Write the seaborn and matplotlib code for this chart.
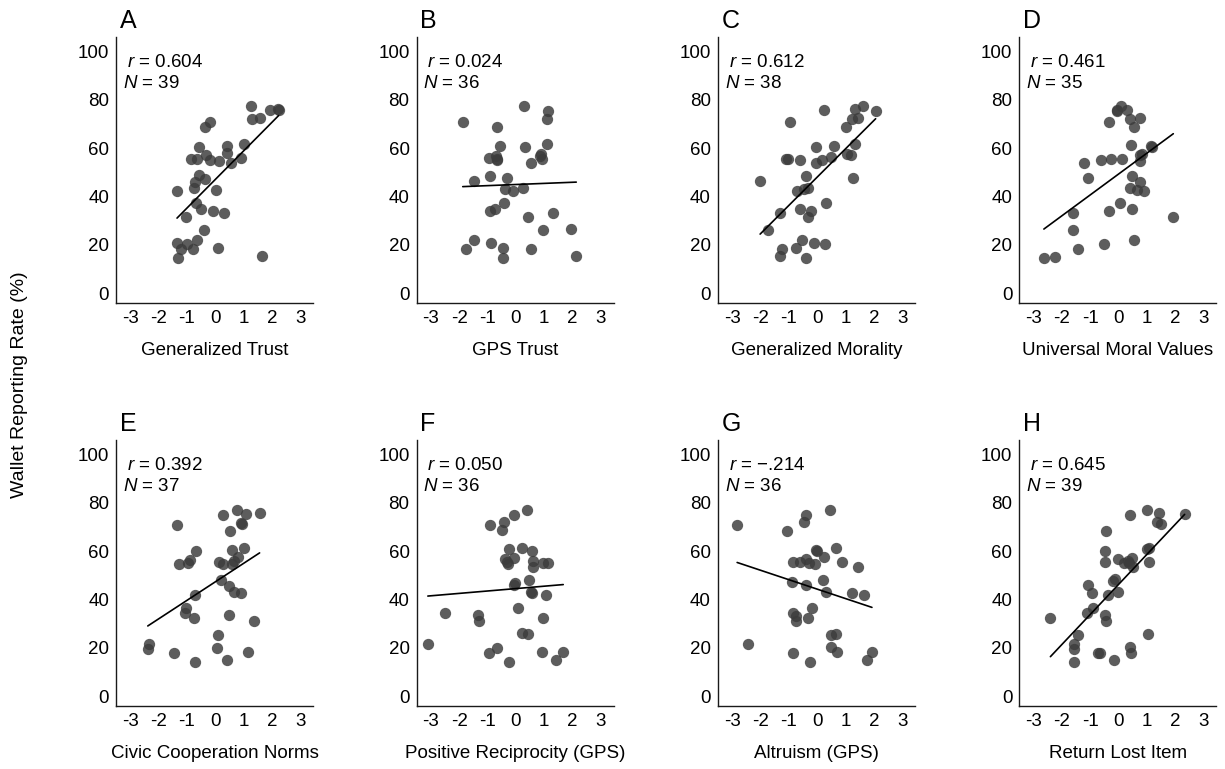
import numpy as np
import seaborn as sns
import matplotlib
matplotlib.use('Agg')
import matplotlib.pyplot as plt

# values (x = country score, y = reporting rate %)
trust_x = [1.24, 1.94, 2.2, 2.23, 1.3, 1.57, -0.19, -0.35, -0.57, 0.42, 1.01, -0.87, -0.66,
           -0.34, -0.2, 0.13, 0.42, 0.56, 0.91, -0.57, -0.7, -0.36, -0.76, 0.02, -1.35, -0.67,
           -0.51, -0.09, 0.29, -1.02, -0.4, -1.35, -1.0, -0.64, -1.2, -0.8, 0.1, -1.3, 1.65]
trust_y = [77.5, 75.9, 76.1, 75.9, 72, 72.3, 71, 68.8, 60.6, 61.1, 61.7, 55.7, 55.7,
           57.1, 55.2, 54.9, 58.1, 53.9, 56, 48.8, 46.2, 47.4, 43.6, 42.8, 42.3, 37.5,
           34.9, 34.2, 33.1, 31.7, 26.2, 21, 20.3, 22.2, 18.2, 18.5, 18.6, 14.8, 15.3]

gps_trust_x = [-1.87, 0.29, 1.15, 1.1, -0.65, -0.55, 0.33, 1.11, -0.93, -0.71, -0.67, -0.65,
               0.87, 0.92, 0.52, -1.49, -0.9, -0.3, -0.38, -0.09, 0.26, -0.4, -0.9, -0.73,
               0.44, 1.31, 0.97, 1.95, -1.49, -0.88, -1.74, -0.44, 0.53, -0.46, 2.13, 0.85]
gps_trust_y = [71, 77.5, 75.4, 72.1, 68.8, 61.1, 60.4, 61.8, 56, 56.8, 55.2, 55.7,
               57.5, 55.4, 53.9, 46.3, 48.7, 47.7, 43, 42.3, 43.4, 37.2, 34.1, 34.9,
               31.7, 33, 26.2, 26.5, 22.1, 20.8, 18.2, 18.6, 18.5, 14.8, 15.3, 56.6]

morality_x = [-0.97, 0.25, 1.33, 1.6, 2.06, 1.22, 1.45, 1.0, -0.05, 0.58, 1.35, -1.1, -1.02,
              -0.61, -0.03, 0.17, 0.5, 1.04, 1.2, 1.28, -2.01, -0.41, -0.71, -0.47, -0.32,
              0.32, -0.6, -0.23, -0.34, -1.3, -1.75, -0.52, -0.12, 0.26, -1.25, -0.73, -1.31, -0.38]
morality_y = [71, 75.7, 76.1, 77.5, 75.4, 72.1, 72.3, 68.8, 60.6, 61.1, 61.8, 55.7, 55.7,
              55, 53.9, 55.2, 56.3, 57.7, 57, 47.7, 46.3, 48.7, 42.5, 43, 43.4,
              37.2, 34.9, 34.1, 31.7, 33.1, 26.2, 22.1, 20.7, 20.3, 18.5, 18.6, 15.3, 14.8]

values_x = [0.08, -0.04, -0.06, 0.31, -0.33, 0.4, 0.76, 0.54, 0.44, 1.14, 1.17, -1.21, -0.62,
            -0.26, 0.12, 0.74, 0.83, 0.74, -1.09, 0.49, 0.74, 0.4, 0.64, 0.89, -1.62, -0.33,
            0.05, 0.46, 1.93, -1.62, -0.51, 0.54, -1.42, -2.63, -2.23]
values_y = [77.5, 75.9, 75.4, 75.9, 71, 72, 72.3, 68.8, 61.5, 60.9, 60.6, 53.9, 55,
            55.7, 55.7, 57.1, 57.8, 54.6, 47.6, 48.7, 46.2, 43.4, 42.8, 42.5, 33.1, 34.1,
            37.2, 34.9, 31.7, 26.1, 20.3, 22.1, 18.2, 14.8, 15.2]

civic_x = [-1.36, 0.26, 0.77, 1.07, 1.56, 0.91, 0.94, 0.53, -0.67, 0.58, 1.0, -1.28, -0.98,
           -0.88, 0.14, 0.26, 0.57, 0.66, 0.79, 0.19, 0.49, 0.65, 0.91, -0.73, -1.02, -1.08,
           -0.74, 0.49, 1.36, 0.09, -2.34, -2.38, 0.05, -1.47, 1.16, -0.7, 0.42]
civic_y = [70.6, 74.9, 77, 75.3, 75.6, 71.7, 71.4, 68.3, 60, 60.6, 61.4, 54.5, 55.2,
           56.4, 55.4, 54.5, 54.5, 55.9, 57.7, 48.1, 45.7, 43.2, 42.5, 41.9, 36.6, 34.5,
           32.4, 33.5, 31.3, 25.5, 21.5, 19.6, 20.1, 17.9, 18.1, 14.2, 14.8]

recip_x = [-0.9, -0.42, -0.49, -0.06, 0.39, -0.23, 0.22, 0.57, -0.37, -0.3, -0.26, -0.08,
           0.6, 0.62, 0.97, 1.15, -0.02, -0.08, 0.48, 0.54, 0.56, 1.05, 0.08, -2.5, -1.33,
           -1.31, 0.96, 0.22, 0.44, -3.1, -0.65, -0.95, 0.94, 1.67, -0.25, 1.43]
recip_y = [70.6, 72, 68.6, 74.9, 77, 60.8, 61.4, 60, 56.6, 55.4, 54.5, 57.2,
           55.9, 53.5, 54.9, 55.3, 47, 46.2, 48.1, 43, 42.5, 41.9, 36.6, 34.3, 33.5,
           31.3, 32.4, 26.2, 25.7, 21.7, 20.1, 17.7, 18.1, 18.2, 14.2, 14.8]

altruism_x = [-2.82, -1.08, -0.39, -0.45, 0.46, -0.05, -0.02, 0.65, -0.85, -0.59, -0.41, -0.29,
              -0.06, 0.24, 0.86, 1.44, -0.87, -0.41, 0.22, 0.31, 1.24, 1.64, -0.19, -0.86,
              -0.73, -0.74, -0.32, 0.48, 0.65, -2.44, 0.49, -0.85, 0.69, 1.93, -0.27, 1.75]
altruism_y = [70.6, 68.4, 74.9, 72, 77, 60.4, 60, 61.4, 55.4, 55.4, 56.6, 54.9,
              54.8, 57.5, 55.6, 53.4, 47.2, 45.9, 48, 43, 42.5, 41.9, 36.6, 34.5,
              33.1, 31, 32.4, 25.5, 25.9, 21.7, 20.3, 17.8, 18.1, 18.2, 14.2, 14.8]

lost_x = [1.0, 0.39, 1.41, 2.33, 1.34, 1.51, -0.43, -0.47, 1.02, 1.06, -0.49, -0.02, 0.19,
          0.36, 0.46, 0.5, 1.07, 0.33, -0.2, -0.13, -1.08, -0.93, -0.36, -0.02, -0.89, -1.11,
          -0.47, -0.44, -2.4, -1.42, 1.04, -1.58, -1.56, -0.72, -0.66, 0.41, 0.45, -1.58, -0.16]
lost_y = [77, 74.9, 75.7, 75.3, 72, 71.3, 68.3, 60, 60.8, 61.4, 55.4, 56.6, 55.2,
          54.9, 57.2, 53.5, 55.6, 55.9, 47.6, 48.6, 45.9, 42.5, 41.9, 43, 36.6, 34.5,
          33.8, 31.3, 32.4, 25.5, 25.9, 21.7, 19.6, 17.9, 17.7, 20.3, 17.9, 14.2, 14.8]

panel_letters = ['A', 'B', 'C', 'D', 'E', 'F', 'G', 'H']
x_labels = ['Generalized Trust', 'GPS Trust', 'Generalized Morality', 'Universal Moral Values',
            'Civic Cooperation Norms', 'Positive Reciprocity (GPS)', 'Altruism (GPS)',
            'Return Lost Item']
r_values = ['0.604', '0.024', '0.612', '0.461', '0.392', '0.050', '\u2212.214', '0.645']
n_values = [39, 36, 38, 35, 37, 36, 36, 39]
xs = [trust_x, gps_trust_x, morality_x, values_x, civic_x, recip_x, altruism_x, lost_x]
ys = [trust_y, gps_trust_y, morality_y, values_y, civic_y, recip_y, altruism_y, lost_y]

sns.set_style('white')
plt.rcParams['font.family'] = ['Liberation Sans', 'DejaVu Sans']
plt.rcParams['mathtext.fontset'] = 'custom'
plt.rcParams['mathtext.rm'] = 'Liberation Sans'
plt.rcParams['mathtext.it'] = 'Liberation Sans:italic'
plt.rcParams['text.color'] = 'black'
plt.rcParams['axes.labelcolor'] = 'black'
plt.rcParams['xtick.color'] = 'black'
plt.rcParams['ytick.color'] = 'black'

fig = plt.figure(figsize=(12.25, 7.69), dpi=100)
lefts = [0.0947, 0.340, 0.586, 0.832]
bottoms = [0.606, 0.082]

for i in range(8):
    ax = fig.add_axes([lefts[i % 4], bottoms[i // 4], 0.161, 0.346])
    sns.regplot(x=np.array(xs[i]), y=np.array(ys[i]), ax=ax, ci=None, truncate=True,
                scatter_kws={'s': 66, 'color': '#3c3c3c', 'alpha': 0.83, 'linewidths': 0},
                line_kws={'color': 'black', 'lw': 1.2})
    ax.set_xlim(-3.5, 3.45)
    ax.set_ylim(-4, 106)
    ax.set_xticks([-3, -2, -1, 0, 1, 2, 3])
    ax.set_xticklabels(['-3', '-2', '-1', '0', '1', '2', '3'])
    ax.set_yticks([0, 20, 40, 60, 80, 100])
    ax.tick_params(length=0, labelsize=13.5, pad=5)
    ax.set_xlabel(x_labels[i], fontsize=13.5, labelpad=11)
    ax.set_ylabel('')
    sns.despine(ax=ax)
    for s in ['left', 'bottom']:
        ax.spines[s].set_color('#1a1a1a')
        ax.spines[s].set_linewidth(1.0)
    ax.text(0.02, 1.035, panel_letters[i], transform=ax.transAxes, fontsize=18, va='baseline')
    ax.text(0.055, 0.905, r'$r$ = ' + r_values[i], transform=ax.transAxes, fontsize=13.5,
            va='center')
    ax.text(0.035, 0.825, r'$N$ = ' + str(n_values[i]), transform=ax.transAxes, fontsize=13.5,
            va='center')

fig.text(0.016, 0.5, 'Wallet Reporting Rate (%)', rotation=90, va='center', ha='center',
         fontsize=14)

plt.savefig('out.png', dpi=100)
